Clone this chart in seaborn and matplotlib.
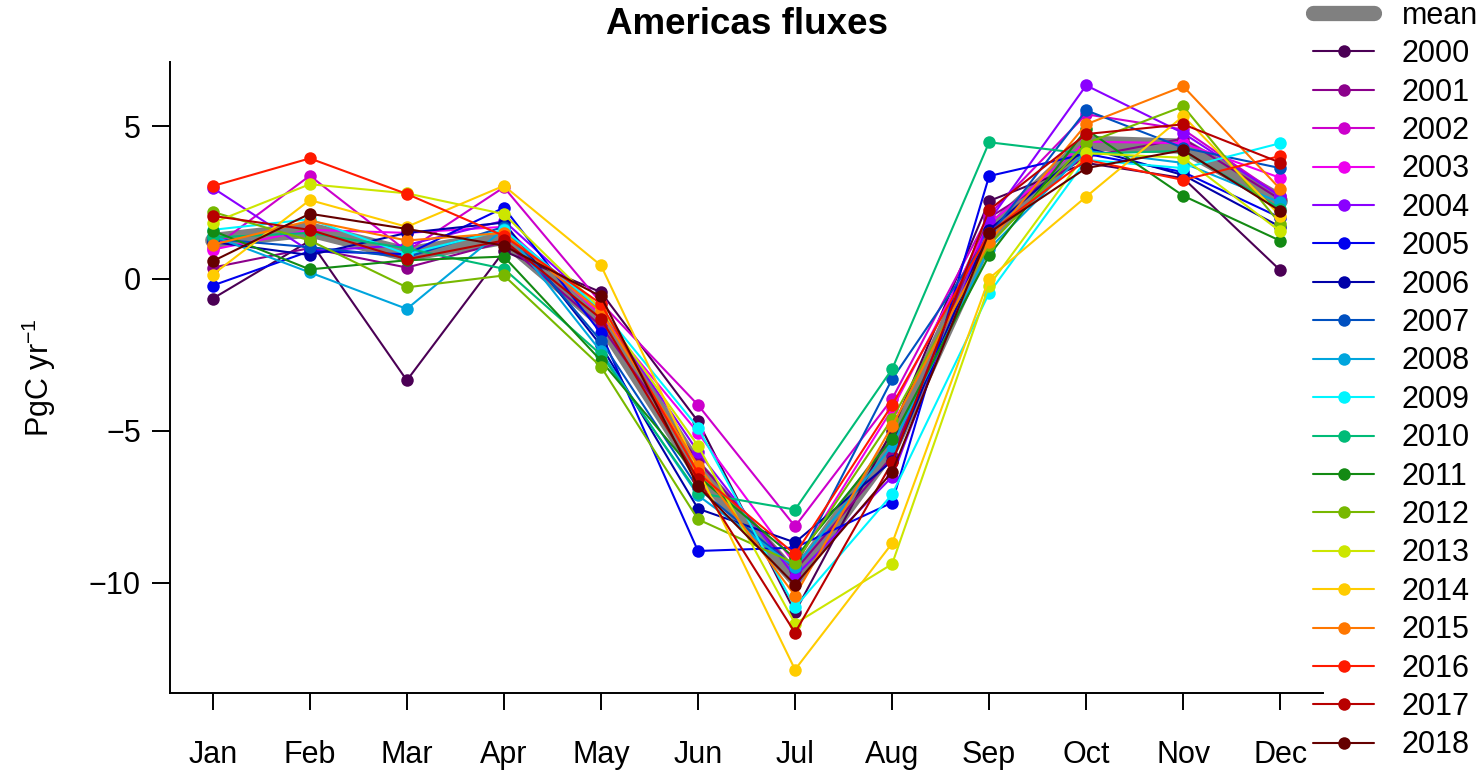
import numpy as np
import pandas as pd
import matplotlib
matplotlib.use("Agg")
import matplotlib.pyplot as plt
from matplotlib.lines import Line2D
import seaborn as sns

# ---- data (PgC/yr) ----
months = ["Jan", "Feb", "Mar", "Apr", "May", "Jun",
          "Jul", "Aug", "Sep", "Oct", "Nov", "Dec"]
years = list(range(2000, 2019))

y2000 = [-0.66, 1.24, -3.35, 0.90, -0.45, -4.70, -10.97, -5.00, 2.55, 3.80, 3.30, 0.27]
y2001 = [0.36, 1.00, 0.36, 1.20, -1.56, -6.00, -9.60, -5.85, 2.00, 4.00, 4.60, 2.60]
y2002 = [1.00, 3.38, 0.90, 3.00, -0.80, -4.16, -8.15, -3.96, 2.10, 5.40, 4.90, 2.72]
y2003 = [0.95, 1.60, 1.50, 1.70, -1.20, -5.07, -9.40, -4.30, 1.80, 4.50, 4.45, 3.31]
y2004 = [2.98, 0.90, 1.10, 1.90, -1.00, -5.70, -9.80, -6.52, 1.90, 6.35, 4.78, 2.70]
y2005 = [-0.23, 0.90, 0.80, 2.33, -1.80, -8.96, -8.85, -7.37, 3.37, 4.10, 3.50, 2.00]
y2006 = [1.20, 0.77, 1.50, 1.84, -2.20, -7.57, -8.68, -6.00, 1.60, 4.30, 3.40, 1.70]
y2007 = [1.30, 1.03, 0.70, 1.70, -2.05, -6.90, -9.50, -3.31, 1.40, 5.53, 4.30, 3.63]
y2008 = [1.40, 0.20, -1.00, 1.63, -2.40, -7.13, -9.50, -5.50, 0.98, 4.20, 3.80, 2.50]
y2009 = [1.60, 1.95, 0.80, 1.60, -1.00, -4.90, -10.81, -7.10, -0.48, 3.90, 3.63, 4.45]
y2010 = [1.35, 1.50, 0.99, 0.32, -2.50, -7.05, -7.60, -2.98, 4.48, 4.10, 4.20, 2.30]
y2011 = [1.57, 0.30, 0.60, 0.72, -2.70, -6.50, -9.20, -5.28, 0.76, 4.90, 2.72, 1.24]
y2012 = [2.19, 1.25, -0.29, 0.10, -2.90, -7.92, -9.37, -4.62, 1.10, 4.45, 5.66, 1.80]
y2013 = [1.83, 3.10, 2.80, 2.12, -1.00, -5.50, -11.35, -9.39, -0.23, 4.12, 3.97, 1.55]
y2014 = [0.13, 2.58, 1.70, 3.05, 0.43, -6.30, -12.86, -8.71, 0.00, 2.69, 5.34, 2.06]
y2015 = [1.11, 1.90, 1.25, 1.50, -1.10, -6.15, -10.43, -4.85, 1.21, 5.07, 6.32, 2.94]
y2016 = [3.04, 3.95, 2.78, 1.40, -0.83, -6.40, -9.07, -4.16, 1.50, 3.90, 3.24, 4.03]
y2017 = [2.06, 1.60, 0.63, 1.25, -1.32, -6.60, -11.65, -6.05, 2.26, 4.75, 5.07, 3.81]
y2018 = [0.57, 2.13, 1.63, 1.08, -0.59, -6.83, -10.07, -6.36, 1.51, 3.63, 4.22, 2.22]

mean_flux = [1.25, 1.60, 0.80, 1.35, -1.35, -6.30, -9.85, -5.50, 1.50, 4.45, 4.35, 2.55]

year_colors = ["#4B0055", "#8B008B", "#CC00CC", "#EE00EE", "#8A00FF",
               "#0000EE", "#0000A8", "#0050C0", "#00A5DD", "#00F5FF",
               "#00BB77", "#138A13", "#77B800", "#CCE600", "#FFCC00",
               "#FF7700", "#FF1A00", "#B80000", "#650000"]

series = [y2000, y2001, y2002, y2003, y2004, y2005, y2006, y2007, y2008, y2009,
          y2010, y2011, y2012, y2013, y2014, y2015, y2016, y2017, y2018]

rows = []
for yr, vals in zip(years, series):
    for m, v in enumerate(vals, start=1):
        rows.append({"month": m, "flux": v, "year": str(yr)})
df = pd.DataFrame(rows)
df_mean = pd.DataFrame({"month": np.arange(1, 13), "flux": mean_flux})

# ---- figure ----
sns.set_style("ticks")
plt.rcParams["font.family"] = ["Liberation Sans", "DejaVu Sans"]
plt.rcParams["mathtext.fontset"] = "custom"
plt.rcParams["mathtext.rm"] = "Liberation Sans"
plt.rcParams["mathtext.it"] = "Liberation Sans:italic"
for k in ["text.color", "axes.labelcolor", "xtick.color", "ytick.color", "axes.edgecolor"]:
    plt.rcParams[k] = "black"

fig = plt.figure(figsize=(14.84, 7.7), dpi=100)
ax = fig.add_axes([0.1146, 0.1, 0.7769, 0.8195])

sns.lineplot(data=df_mean, x="month", y="flux", ax=ax, color="#808080",
             linewidth=11, solid_capstyle="round", zorder=1)

sns.lineplot(data=df, x="month", y="flux", hue="year", palette=year_colors,
             marker="o", markersize=9, markeredgewidth=0, linewidth=1.5,
             ax=ax, legend=False, zorder=2)

ax.set_xlim(0.56, 12.44)
ax.set_ylim(-13.63, 7.12)
ax.set_xticks(np.arange(1, 13))
ax.set_xticklabels(months)
ax.set_yticks([-10, -5, 0, 5])
ax.tick_params(axis="both", labelsize=22, width=1.4, color="black", labelcolor="black")
ax.tick_params(axis="x", length=12, pad=22)
ax.tick_params(axis="y", length=13, pad=8)
for s in ["top", "right"]:
    ax.spines[s].set_visible(False)
for s in ["left", "bottom"]:
    ax.spines[s].set_linewidth(1.4)
    ax.spines[s].set_color("black")

ax.set_xlabel("")
ax.set_ylabel("PgC yr$^{-1}$", fontsize=22, labelpad=22)
ax.set_title("Americas fluxes", fontsize=26.5, fontweight="bold", pad=20)

# legend: mean + each year
handles = [Line2D([0], [0], color="#808080", linewidth=11, solid_capstyle="round")]
for c in year_colors:
    handles.append(Line2D([0], [0], color=c, linewidth=1.5, marker="o",
                          markersize=9, markeredgewidth=0))
labels = ["mean"] + [str(y) for y in years]
fig.legend(handles, labels, loc="upper left", bbox_to_anchor=(0.885, 0.999),
           frameon=False, fontsize=22, handlelength=2.0, handletextpad=0.9,
           labelspacing=0.275, borderpad=0, borderaxespad=0, numpoints=1)

fig.savefig("out.png", dpi=100)
